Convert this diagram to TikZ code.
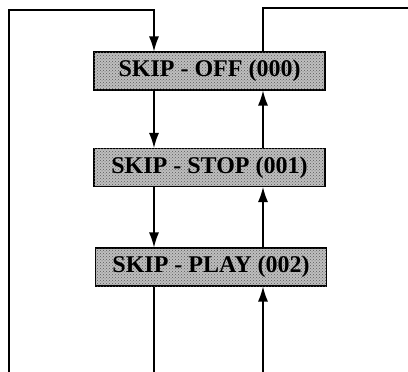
\documentclass[tikz,border=0pt]{standalone}
\usepackage{fontspec}
\setmainfont{Liberation Serif}
\usepackage{tikz}
\usetikzlibrary{patterns,arrows.meta}

\begin{document}
\begin{tikzpicture}[x=1pt,y=-1pt,draw=black,line width=1.3pt,>={Latex[length=15pt,width=10pt]}]
	\tikzstyle{mode}=[draw,line width=1.1pt,fill=black!25,minimum width=231pt,minimum height=38pt,inner sep=0pt,font=\fontsize{24}{26}\selectfont\bfseries,postaction={pattern=crosshatch dots,pattern color=black!65}]
	\useasboundingbox (0,0) rectangle (408,372);
	% modes
	\node[mode](s-1) at (209.5,71){SKIP - OFF (000)};
	\node[mode](s-2) at (209.5,167.5){SKIP - STOP (001)};
	\node[mode](s-3) at (211,267){SKIP - PLAY (002)};
	% corners and loose ends
	\coordinate (tl) at (9,10);
	\coordinate (tm) at (154,10);
	\coordinate (tr) at (263,8);
	\coordinate (re) at (408,8);
	\coordinate (bl) at (9,372);
	\coordinate (bm) at (154,372);
	\coordinate (br) at (263,372);
	\draw[->] (bl) -- (tl) -- (tm) -- (s-1.north -| tm);
	\draw (s-1.north -| tr) -- (tr) -- (re);
	\foreach \x/\y in {1/2,2/3}{
	\draw[->] (s-\x.south -| tm) -- (s-\y.north -| tm);
	\draw[->] (s-\y.north -| tr) -- (s-\x.south -| tr);
	}
	\draw (s-3.south -| tm) -- (bm);
	\draw[->] (br) -- (s-3.south -| tr);
\end{tikzpicture}
\end{document}
